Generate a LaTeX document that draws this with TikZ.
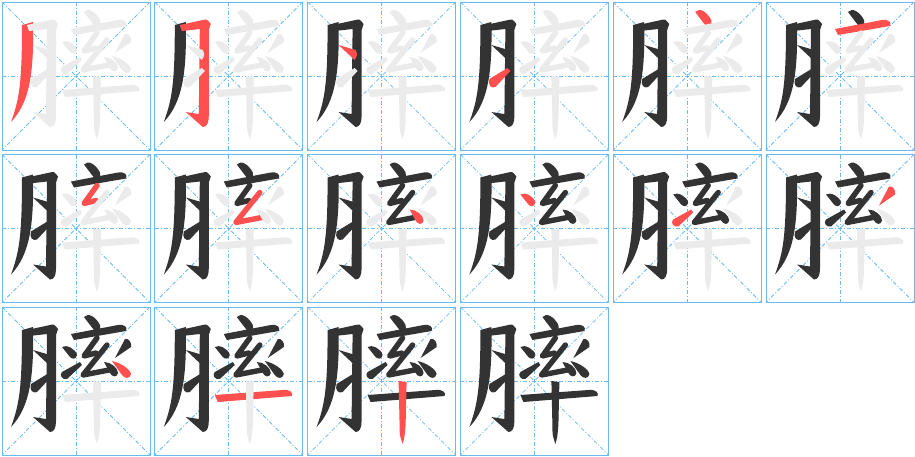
\documentclass[tikz,border=0pt]{standalone}
\definecolor{ink}{HTML}{333333}
\definecolor{hl}{HTML}{FF4F4F}
\definecolor{ghost}{HTML}{EBEBEB}
\definecolor{gridb}{HTML}{6BBAF0}
\tikzset{
  cellbox/.style={draw=gridb, line width=1pt},
  guide/.style={draw=gridb, line width=0.8pt, dash pattern=on 4pt off 2pt on 1pt off 2pt},
  linestroke/.style={line width=5.4pt, line cap=round, line join=round}
}
\newcommand\zistroke[2]{\ifcase#1\or
  \fill[#2] (22,25) -- (33,22) .. controls (34,72) and (30,102) .. (11,122) .. controls (19,100) and (22,85) .. (22,25) -- cycle;\or
  \fill[#2] (27,25) -- (50,20) .. controls (54,19) .. (58,24) -- (56,30) -- (56,116) .. controls (56,123) and (54,127) .. (50,127) -- (33,112) -- (46,114) -- (47,29) -- (29,31) -- cycle;\or
  \fill[#2] (33,45) -- (50,50) .. controls (52,55) .. (49,60) -- cycle;\or
  \fill[#2] (31,79) -- (49,68) -- (52,71) -- (37,87) .. controls (33,89) and (29,85) .. (31,79) -- cycle;\or
  \fill[#2] (84,12) .. controls (88,7) and (96,12) .. (100,20) .. controls (102,26) and (97,28) .. (94,25) .. controls (90,20) and (87,16) .. (84,12) -- cycle;\or
  \fill[#2] (71,29) -- (118,20) .. controls (124,19) and (128,22) .. (126,26) -- (74,35) -- cycle;\or
  \draw[#2, linestroke] (97,33) -- (84,51) -- (96,48);\or
  \draw[#2, linestroke] (107,40) -- (83,70) -- (109,65);\or
  \fill[#2] (104,57) .. controls (111,57) and (118,63) .. (118,68) .. controls (117,73) and (112,72) .. (110,68) -- cycle;\or
  \fill[#2] (62,42) .. controls (66,39) and (76,44) .. (77,50) .. controls (76,55) and (72,54) .. (70,52) -- cycle;\or
  \fill[#2] (80,57) -- (82,60) -- (67,74) .. controls (62,75) and (59,70) .. (62,67) -- cycle;\or
  \fill[#2] (125,34) .. controls (129,33) and (132,38) .. (131,42) -- (115,53) -- cycle;\or
  \fill[#2] (112,56) .. controls (121,58) and (130,64) .. (131,69) .. controls (130,74) and (125,74) .. (122,70) -- cycle;\or
  \fill[#2] (62,90) -- (130,85) .. controls (137,84) and (141,88) .. (139,91) -- (65,97) -- cycle;\or
  \fill[#2] (93,76) -- (101,77) -- (100,120) .. controls (99,132) .. (97,139) .. controls (94,130) .. (94,120) -- cycle;\fi}
\begin{document}
\begin{tikzpicture}[x=1pt,y=-1pt]
\useasboundingbox (0,0) rectangle (915,456);
\fill[white] (0,0) rectangle (915,456);
\foreach \k in {1,...,16}{
  \pgfmathtruncatemacro\cc{mod(\k-1,6)}
  \pgfmathtruncatemacro\rr{(\k-1)/6}
  \begin{scope}[shift={(\cc*152.8,\rr*152.5)}]
    \draw[guide] (76,2) -- (76,150);
    \draw[guide] (2,76) -- (150,76);
    \draw[guide] (2,2) -- (150,150);
    \draw[guide] (150,2) -- (2,150);
    \foreach \s in {1,...,15}{
      \ifnum\s<\k\relax \zistroke{\s}{ink}\else\ifnum\s=\k\relax \zistroke{\s}{hl}\else \zistroke{\s}{ghost}\fi\fi
    }
    \draw[cellbox] (2,2) rectangle (150,150);
  \end{scope}
}
\end{tikzpicture}
\end{document}
